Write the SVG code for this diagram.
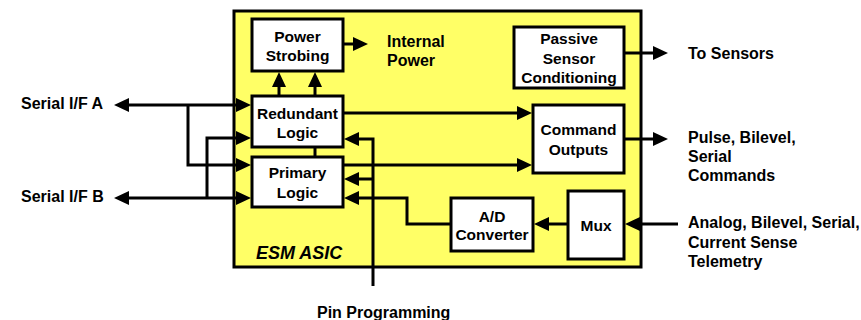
<svg xmlns="http://www.w3.org/2000/svg" width="861" height="320" viewBox="0 0 861 320">
  <style>
    .blk { fill: #ffffff; stroke: #000000; stroke-width: 3; }
    .asic { fill: #ffff66; stroke: #000000; stroke-width: 3; }
    .wire { fill: none; stroke: #000000; stroke-width: 3; }
    text { font-family: "Liberation Sans", Arial, sans-serif; font-weight: bold; font-size: 15.5px; fill: #000000; }
    .ext { font-size: 16px; }
    .mid { text-anchor: middle; }
    .title { font-size: 18px; font-style: italic; }
  </style>
  <defs>
    <marker id="arrow" markerUnits="userSpaceOnUse" markerWidth="16" markerHeight="16" refX="0" refY="7" orient="auto-start-reverse" viewBox="0 0 16 16">
      <path d="M0,0 L15,7 L0,14 z" fill="#000000"/>
    </marker>
  </defs>

  <!-- ASIC outline -->
  <g id="esm-asic">
    <rect class="asic" x="234" y="11" width="407" height="256"/>
    <text class="title" x="256" y="259">ESM ASIC</text>
  </g>

  <!-- Signal wiring -->
  <g id="connectors">
    <path class="wire" d="M129,105 L236,105" marker-start="url(#arrow)" marker-end="url(#arrow)"/>
    <path class="wire" d="M188,105 L188,165 L236,165" marker-end="url(#arrow)"/>
    <path class="wire" d="M129,198 L236,198" marker-start="url(#arrow)" marker-end="url(#arrow)"/>
    <path class="wire" d="M207,198 L207,138 L236,138" marker-end="url(#arrow)"/>
    <path class="wire" d="M279,96 L279,87" marker-end="url(#arrow)"/>
    <path class="wire" d="M315,157 L315,87" marker-end="url(#arrow)"/>
    <path class="wire" d="M343,44 L353,44" marker-end="url(#arrow)"/>
    <path class="wire" d="M343,113 L517,113" marker-end="url(#arrow)"/>
    <path class="wire" d="M343,165 L517,165" marker-end="url(#arrow)"/>
    <path class="wire" d="M373,286 L373,139 L359,139" marker-end="url(#arrow)"/>
    <path class="wire" d="M373,179 L359,179" marker-end="url(#arrow)"/>
    <path class="wire" d="M451,224 L407,224 L407,198 L359,198" marker-end="url(#arrow)"/>
    <path class="wire" d="M568,224 L549,224" marker-end="url(#arrow)"/>
    <path class="wire" d="M678,224 L640,224" marker-end="url(#arrow)"/>
    <path class="wire" d="M624,53 L653,53" marker-end="url(#arrow)"/>
    <path class="wire" d="M624,139 L653,139" marker-end="url(#arrow)"/>
  </g>

  <g id="power-strobing">
    <rect class="blk" x="252" y="19" width="91" height="52"/>
    <text class="mid" x="297.5" y="41.5">Power</text>
    <text class="mid" x="297.5" y="61">Strobing</text>
  </g>

  <g id="redundant-logic">
    <rect class="blk" x="252" y="96" width="91" height="51"/>
    <text class="mid" x="297.5" y="119">Redundant</text>
    <text class="mid" x="297.5" y="138">Logic</text>
  </g>

  <g id="primary-logic">
    <rect class="blk" x="252" y="157" width="91" height="50"/>
    <text class="mid" x="297.5" y="178">Primary</text>
    <text class="mid" x="297.5" y="198">Logic</text>
  </g>

  <g id="passive-sensor">
    <rect class="blk" x="514" y="27" width="110" height="61"/>
    <text class="mid" x="569" y="44">Passive</text>
    <text class="mid" x="569" y="64">Sensor</text>
    <text class="mid" x="569" y="83">Conditioning</text>
  </g>

  <g id="command-outputs">
    <rect class="blk" x="533" y="105" width="91" height="68"/>
    <text class="mid" x="578.5" y="135">Command</text>
    <text class="mid" x="578.5" y="155">Outputs</text>
  </g>

  <g id="ad-converter">
    <rect class="blk" x="451" y="198" width="82" height="53"/>
    <text class="mid" x="492" y="221.5">A/D</text>
    <text class="mid" x="492" y="240">Converter</text>
  </g>

  <g id="mux">
    <rect class="blk" x="568" y="191" width="56" height="68"/>
    <text class="mid" x="596" y="231">Mux</text>
  </g>

  <!-- External labels -->
  <g id="serial-a"><text class="ext" x="21" y="109">Serial I/F A</text></g>
  <g id="serial-b"><text class="ext" x="21" y="202">Serial I/F B</text></g>
  <g id="internal-power">
    <text class="ext" x="387" y="47">Internal</text>
    <text class="ext" x="387" y="66">Power</text>
  </g>
  <g id="to-sensors"><text class="ext" x="688" y="59">To Sensors</text></g>
  <g id="commands-out">
    <text class="ext" x="688" y="143">Pulse, Bilevel,</text>
    <text class="ext" x="688" y="162">Serial</text>
    <text class="ext" x="688" y="181">Commands</text>
  </g>
  <g id="telemetry-in">
    <text class="ext" x="688" y="228">Analog, Bilevel, Serial,</text>
    <text class="ext" x="688" y="248">Current Sense</text>
    <text class="ext" x="688" y="267">Telemetry</text>
  </g>
  <g id="pin-programming"><text class="ext" x="317" y="318">Pin Programming</text></g>
</svg>
